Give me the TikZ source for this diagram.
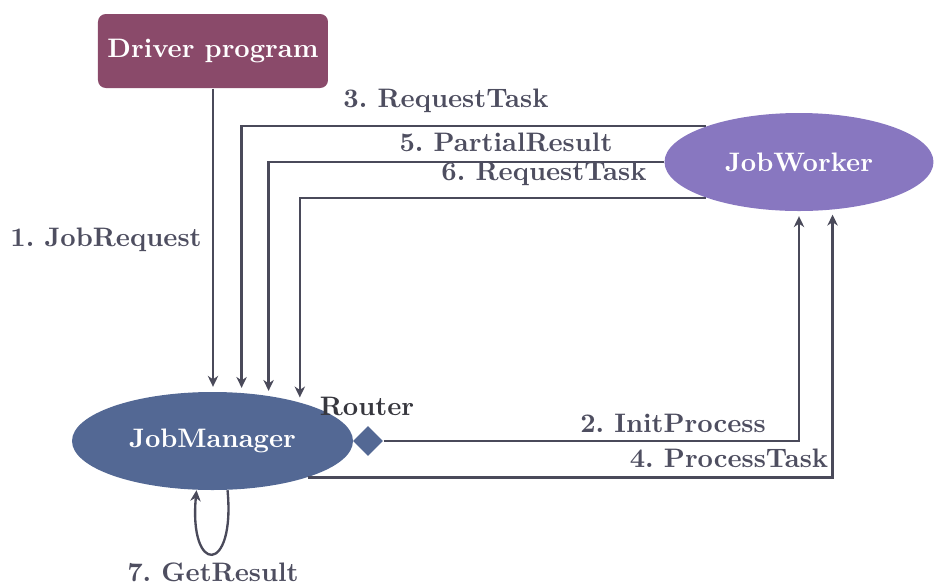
\documentclass[tikz,border=0pt]{standalone}
\usetikzlibrary{arrows.meta,shapes.geometric}
\definecolor{linecol}{RGB}{74,74,90}
\definecolor{labelcol}{RGB}{78,78,96}
\definecolor{routercol}{RGB}{55,55,62}
\definecolor{drivercol}{RGB}{138,74,106}
\definecolor{workercol}{RGB}{136,119,192}
\definecolor{managercol}{RGB}{83,104,148}
\frenchspacing
\begin{document}
\begin{tikzpicture}[x=0.385pt,y=-0.385pt,
  every node/.style={font=\fontsize{10.3}{12}\selectfont\bfseries},
  msg/.style={draw=linecol,line width=0.9pt,-{Stealth[length=4.2pt,width=4pt,inset=1.3pt]},shorten >=1.8pt},
  lbl/.style={text=labelcol},
  box/.style={rectangle,rounded corners=3pt,fill=drivercol,text=white,
    minimum width=230*0.385pt,minimum height=74*0.385pt,inner sep=0pt},
  blob/.style={ellipse,text=white,minimum height=98*0.385pt,inner sep=0pt}]
\useasboundingbox (0,0) rectangle (935,584);

% actors
\node[box] (dp) at (213,51) {Driver program};
\node[blob,fill=workercol,minimum width=269*0.385pt] (jw) at (799,162) {JobWorker};
\node[blob,fill=managercol,minimum width=281*0.385pt] (jm) at (212.5,441) {JobManager};
\node[diamond,fill=managercol,minimum width=30*0.385pt,minimum height=30*0.385pt,inner sep=0pt]
  (rt) at (368,441) {};
\node[text=routercol] (rtl) at (367,406) {Router};

% messages
\draw[msg] (dp.south) -- (jm.north -| dp.south);
\node[lbl] (l1) at (106,240) {1. JobRequest};

\draw[msg] (rt.east) -| (jw.south);
\node[lbl] (l2) at (673,423) {2. InitProcess};

\draw[msg] (jw.159.5) -| (jm.59.3);
\node[lbl] (l3) at (446,101) {3. RequestTask};

\draw[msg] (jm.339.3) -| (jw.305.7);
\node[lbl] (l4) at (729,458) {4. ProcessTask};

\draw[msg] (jw.west) -| (jm.39);
\node[lbl] (l5) at (506,142) {5. PartialResult};

\draw[msg] (jw.201.5) -| (jm.24.5);
\node[lbl] (l6) at (544,174) {6. RequestTask};

\draw[msg,shorten >=0pt] (jm.287.7) .. controls +(8,85) and +(-8,85) .. (jm.252.3);
\node[lbl] (l7) at (213,572) {7. GetResult};
\end{tikzpicture}
\end{document}
